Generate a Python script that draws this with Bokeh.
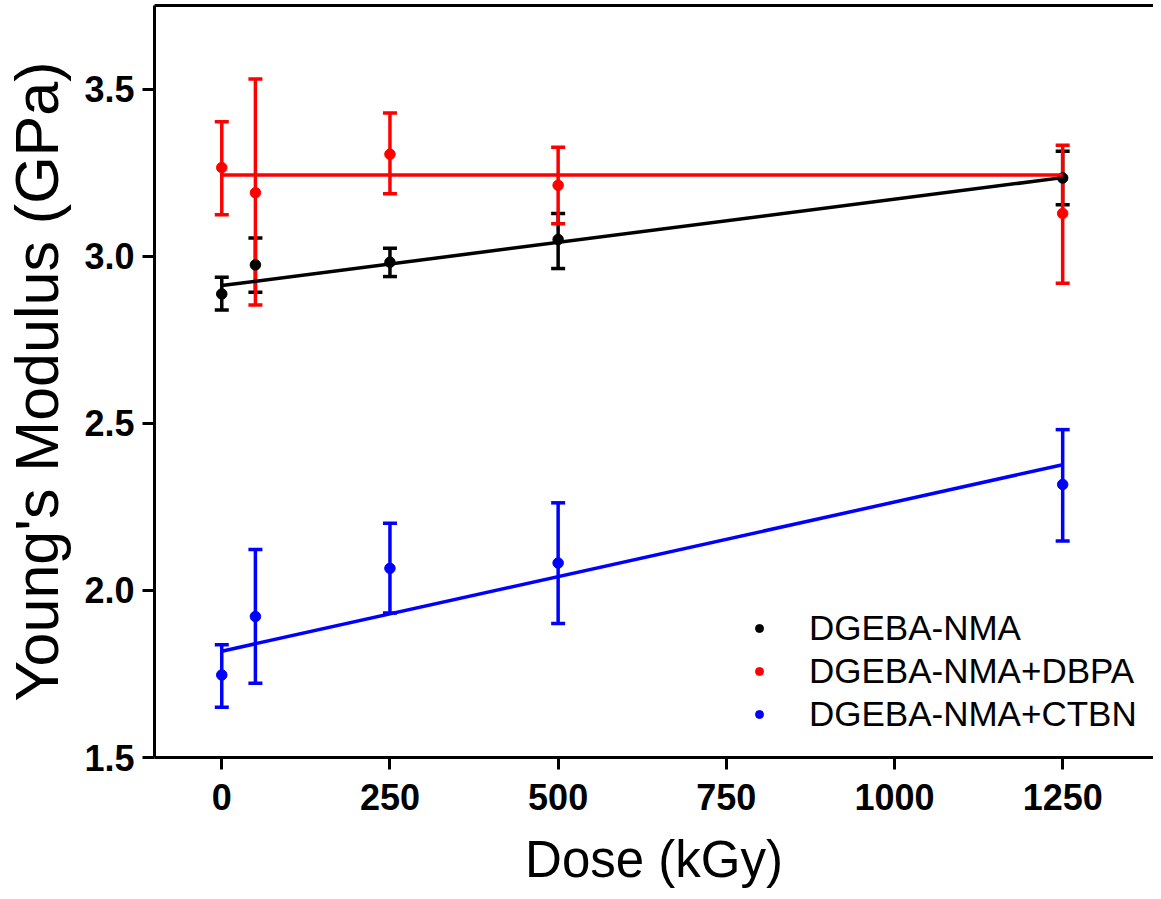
from bokeh.plotting import figure
from bokeh.models import (ColumnDataSource, Whisker, TeeHead, Legend, LegendItem,
                          LinearAxis, FixedTicker, Range1d)
from bokeh.embed import file_html
from bokeh.resources import INLINE

# ---- data ----
dose = [0, 50, 250, 500, 1250]

nma_mean = [2.887, 2.974, 2.982, 3.050, 3.234]
nma_lo = [2.839, 2.892, 2.939, 2.963, 3.154]
nma_hi = [2.937, 3.054, 3.024, 3.128, 3.314]

dbpa_mean = [3.265, 3.190, 3.305, 3.212, 3.128]
dbpa_lo = [3.124, 2.854, 3.187, 3.097, 2.919]
dbpa_hi = [3.402, 3.530, 3.428, 3.326, 3.332]

ctbn_mean = [1.747, 1.922, 2.066, 2.082, 2.317]
ctbn_lo = [1.650, 1.722, 1.932, 1.901, 2.148]
ctbn_hi = [1.837, 2.122, 2.201, 2.262, 2.481]

fit_x = [0, 1250]
nma_fit = [2.912, 3.235]
dbpa_fit = [3.243, 3.243]
ctbn_fit = [1.818, 2.376]

series_names = ["DGEBA-NMA", "DGEBA-NMA+DBPA", "DGEBA-NMA+CTBN"]
colors = ["#000000", "#ff0000", "#0000ff"]

x_ticks = [0, 250, 500, 750, 1000, 1250]
y_ticks = [1.5, 2.0, 2.5, 3.0, 3.5]

FONT = "Liberation Sans"

p = figure(width=1153, height=891, output_backend="svg", toolbar_location=None,
           x_range=Range1d(-100, 1385), y_range=Range1d(1.5, 3.75),
           min_border_left=151, min_border_right=0, min_border_top=5,
           min_border_bottom=134)
p.outline_line_color = None
p.xgrid.visible = False
p.ygrid.visible = False
p.background_fill_color = "white"
p.border_fill_color = "white"

for ax in (p.xaxis[0], p.yaxis[0]):
    ax.axis_line_width = 3
    ax.axis_line_color = "black"
    ax.major_tick_line_width = 3
    ax.major_tick_line_color = "black"
    ax.major_tick_out = 12
    ax.major_tick_in = 0
    ax.minor_tick_line_color = None
    ax.major_label_text_font = FONT
    ax.major_label_text_font_style = "bold"
    ax.major_label_text_font_size = "36px"
    ax.major_label_text_color = "black"
    ax.axis_label_text_font = FONT
    ax.axis_label_text_font_style = "normal"
    ax.axis_label_text_color = "black"

p.xaxis[0].ticker = FixedTicker(ticks=x_ticks)
p.yaxis[0].ticker = FixedTicker(ticks=y_ticks)
p.yaxis[0].major_label_overrides = {1.5: "1.5", 2.0: "2.0", 2.5: "2.5", 3.0: "3.0", 3.5: "3.5"}
p.xaxis[0].axis_label = "Dose (kGy)"
p.yaxis[0].axis_label = "Young's Modulus (GPa)"
p.xaxis[0].axis_label_text_font_size = "51px"
p.yaxis[0].axis_label_text_font_size = "61px"
p.xaxis[0].major_label_standoff = 14
p.xaxis[0].axis_label_standoff = 18
p.yaxis[0].major_label_standoff = 8
p.yaxis[0].axis_label_standoff = 10

top = LinearAxis(ticker=FixedTicker(ticks=[]), axis_line_width=3, axis_line_color="black",
                 major_tick_out=0, major_tick_in=0, minor_tick_line_color=None,
                 major_label_standoff=0, major_label_text_font_size="0px")
p.add_layout(top, "above")

means = [nma_mean, dbpa_mean, ctbn_mean]
los = [nma_lo, dbpa_lo, ctbn_lo]
his = [nma_hi, dbpa_hi, ctbn_hi]
fits = [nma_fit, dbpa_fit, ctbn_fit]

items = []
for name, c, m, lo, hi, ft in zip(series_names, colors, means, los, his, fits):
    src = ColumnDataSource(dict(x=dose, y=m, lo=lo, hi=hi))
    p.line(fit_x, ft, line_color=c, line_width=3.5)
    w = Whisker(source=src, base="x", upper="hi", lower="lo", dimension="height",
                line_color=c, line_width=3.5,
                upper_head=TeeHead(size=14, line_color=c, line_width=3.5),
                lower_head=TeeHead(size=14, line_color=c, line_width=3.5))
    p.add_layout(w)
    r = p.scatter("x", "y", source=src, size=10.5, fill_color=c, line_color=c)
    items.append(LegendItem(label=name, renderers=[r]))

legend = Legend(items=items, location=(595, 22), orientation="vertical",
                border_line_color=None, background_fill_alpha=0,
                label_text_font=FONT, label_text_font_size="35px",
                label_text_color="black", label_standoff=40,
                glyph_width=20, glyph_height=20, label_height=43,
                spacing=0, padding=0, margin=0)
p.add_layout(legend, "center")

open("out.html", "w").write(file_html(p, INLINE))
